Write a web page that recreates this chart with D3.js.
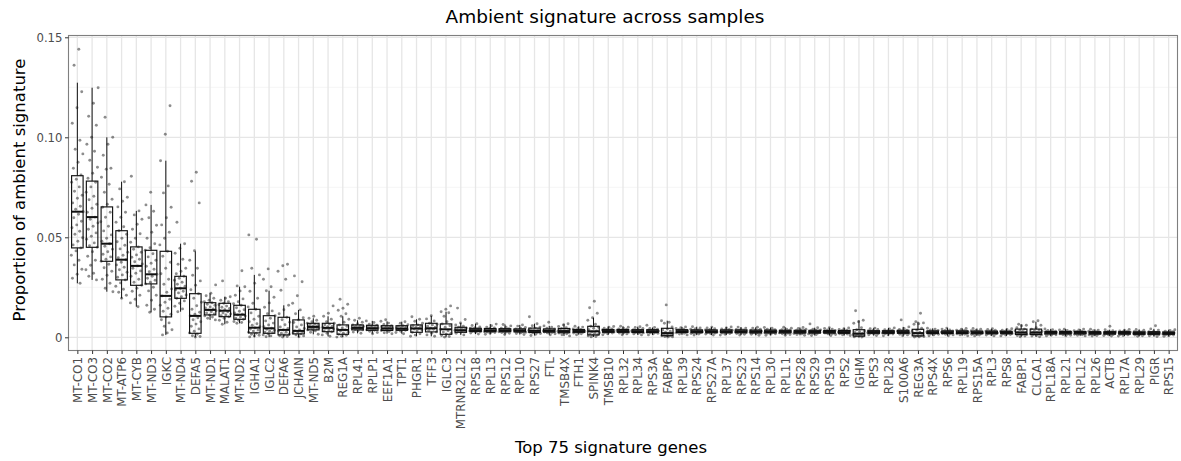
<!DOCTYPE html>
<html>
<head>
<meta charset="utf-8">
<script src="https://cdn.jsdelivr.net/npm/d3@7"></script>
<style>
  html, body { margin: 0; padding: 0; background: #fff; }
  svg { display: block; font-family: "DejaVu Sans", sans-serif; }
</style>
</head>
<body>
<svg id="chart" width="1181" height="461"></svg>
<script>
// Top 75 signature genes, ordered by median ambient proportion
const genes = ["MT-CO1","MT-CO3","MT-CO2","MT-ATP6","MT-CYB","MT-ND3","IGKC","MT-ND4","DEFA5","MT-ND1",
  "MALAT1","MT-ND2","IGHA1","IGLC2","DEFA6","JCHAIN","MT-ND5","B2M","REG1A","RPL41",
  "RPLP1","EEF1A1","TPT1","PHGR1","TFF3","IGLC3","MTRNR2L12","RPS18","RPL13","RPS12",
  "RPL10","RPS27","FTL","TMSB4X","FTH1","SPINK4","TMSB10","RPL32","RPL34","RPS3A",
  "FABP6","RPL39","RPS24","RPS27A","RPL37","RPS23","RPS14","RPL30","RPL11","RPS28",
  "RPS29","RPS19","RPS2","IGHM","RPS3","RPL28","S100A6","REG3A","RPS4X","RPS6",
  "RPL19","RPS15A","RPL3","RPS8","FABP1","CLCA1","RPL18A","RPL21","RPL12","RPL26",
  "ACTB","RPL7A","RPL29","PIGR","RPS15"];

// Box summaries per gene: lower whisker, Q1, median, Q3, upper whisker
const whiskerLow = [0.027,0.0287,0.0228,0.0195,0.0153,0.0125,0.0012,0.0128,0,0.0087,
  0.0065,0.007,0,0,0,0,0.0015,0.0005,0,0.002,
  0.0018,0.0018,0.0018,0.0005,0.0005,0,0.0012,0.0016,0.0015,0.0014,
  0.0014,0.0009,0.0013,0.0007,0.0013,0.0002,0.0013,0.0013,0.0012,0.0012,
  0.0001,0.0012,0.0011,0.0011,0.0011,0.0011,0.001,0.001,0.001,0.001,
  0.0009,0.0009,0.0009,0.0001,0.0009,0.0008,0.0008,0.0001,0.0008,0.0008,
  0.0008,0.0007,0.0007,0.0007,0.0003,0.0003,0.0007,0.0007,0.0007,0.0006,
  0.0006,0.0006,0.0005,0.0004,0.0005];
const q1 = [0.0447,0.045,0.038,0.0287,0.026,0.0267,0.0102,0.0195,0.002,0.0112,
  0.0103,0.009,0.0022,0.002,0.0012,0.0017,0.0037,0.0028,0.0015,0.0037,
  0.0035,0.0034,0.0035,0.0025,0.0027,0.0015,0.0025,0.0029,0.0028,0.0028,
  0.0027,0.0024,0.0026,0.0023,0.0025,0.0012,0.0025,0.0025,0.0024,0.0024,
  0.0008,0.0024,0.0023,0.0023,0.0023,0.0023,0.0022,0.0022,0.0022,0.0021,
  0.0021,0.0021,0.002,0.0006,0.002,0.002,0.002,0.0007,0.0019,0.0019,
  0.0019,0.0018,0.0018,0.0018,0.0014,0.0014,0.0017,0.0017,0.0017,0.0016,
  0.0016,0.0016,0.0015,0.0015,0.0015];
const median = [0.0628,0.0601,0.0468,0.0388,0.0357,0.0315,0.0207,0.0245,0.0107,0.0137,
  0.0133,0.0113,0.0048,0.0045,0.0037,0.0032,0.0052,0.0047,0.0037,0.0047,
  0.0045,0.0044,0.0043,0.0044,0.0045,0.004,0.0035,0.0035,0.0034,0.0034,
  0.0033,0.0032,0.0032,0.0031,0.0031,0.003,0.0031,0.0031,0.003,0.003,
  0.0021,0.003,0.0029,0.0029,0.0029,0.0029,0.0028,0.0028,0.0028,0.0027,
  0.0027,0.0027,0.0026,0.0018,0.0026,0.0026,0.0026,0.0021,0.0025,0.0025,
  0.0025,0.0024,0.0024,0.0024,0.0024,0.0024,0.0023,0.0023,0.0023,0.0022,
  0.0022,0.0022,0.0021,0.0021,0.0021];
const q3 = [0.0808,0.0781,0.0652,0.0533,0.0452,0.0435,0.043,0.0305,0.0218,0.0173,
  0.017,0.016,0.014,0.0108,0.01,0.0087,0.007,0.007,0.0062,0.0062,
  0.006,0.0058,0.0058,0.0062,0.007,0.0067,0.005,0.0045,0.0044,0.0043,
  0.0042,0.0046,0.0042,0.0044,0.0039,0.0055,0.0039,0.0039,0.0038,0.0038,
  0.0045,0.0038,0.0037,0.0037,0.0037,0.0037,0.0036,0.0036,0.0035,0.0035,
  0.0035,0.0034,0.0034,0.0038,0.0033,0.0033,0.0035,0.004,0.0032,0.0032,
  0.0032,0.0031,0.0031,0.003,0.0041,0.0041,0.0029,0.0029,0.0029,0.0028,
  0.0028,0.0028,0.0027,0.0028,0.0026];
const whiskerHigh = [0.1273,0.1248,0.1,0.0778,0.0632,0.0662,0.0883,0.0468,0.043,0.022,
  0.0203,0.0253,0.0312,0.0233,0.016,0.0137,0.0095,0.0105,0.0105,0.0085,
  0.0082,0.008,0.0078,0.009,0.0107,0.0128,0.0072,0.0068,0.0066,0.0064,
  0.0062,0.0068,0.0057,0.0068,0.0055,0.0098,0.0054,0.0055,0.0053,0.0049,
  0.0083,0.0052,0.0053,0.0051,0.0052,0.0051,0.005,0.0049,0.005,0.0049,
  0.0048,0.0048,0.0047,0.0085,0.0046,0.0047,0.0052,0.0078,0.0045,0.0046,
  0.0044,0.0044,0.0043,0.0043,0.0065,0.0078,0.0042,0.0041,0.0041,0.004,
  0.0038,0.0039,0.0039,0.0042,0.0038];

// Per-sample ambient proportions for each gene
const samples = [
  [0.144,0.136,0.1228,0.1148,0.107,0.0985,0.094,0.0917,0.0875,0.0845,0.0812,0.079,0.0775,0.0752,0.073,0.071,0.0695,0.0672,0.0655,0.064,0.0628,0.0615,0.0598,0.058,0.0562,0.0548,0.053,0.0515,0.0498,0.048,0.0462,0.0447,0.0432,0.041,0.0385,0.0362,0.034,0.0315,0.0295,0.027],
  [0.1248,0.117,0.1105,0.106,0.1,0.0965,0.093,0.0885,0.085,0.082,0.0795,0.0775,0.0752,0.0725,0.0705,0.0688,0.0665,0.0645,0.0625,0.0601,0.059,0.0572,0.0555,0.054,0.0522,0.0505,0.049,0.0472,0.0458,0.045,0.0428,0.0405,0.0385,0.036,0.0338,0.032,0.0305,0.0287],
  [0.11,0.1,0.0965,0.091,0.0845,0.084,0.08,0.0765,0.0725,0.069,0.0665,0.065,0.0625,0.06,0.0578,0.0555,0.0532,0.0512,0.0495,0.048,0.0468,0.0455,0.044,0.0428,0.0415,0.0402,0.039,0.038,0.0365,0.0348,0.033,0.031,0.029,0.027,0.0245,0.0228],
  [0.0778,0.0742,0.07,0.068,0.0652,0.0625,0.06,0.0575,0.0553,0.0533,0.0515,0.0495,0.0478,0.046,0.0442,0.0425,0.041,0.0398,0.0388,0.0375,0.0362,0.035,0.0338,0.0325,0.0312,0.03,0.0287,0.0272,0.0255,0.024,0.0225,0.021,0.0195],
  [0.0805,0.0632,0.0612,0.059,0.0565,0.054,0.0518,0.0495,0.0475,0.0452,0.044,0.0425,0.0412,0.04,0.039,0.0378,0.0367,0.0357,0.0345,0.0332,0.032,0.0305,0.029,0.0275,0.026,0.0245,0.023,0.021,0.019,0.0172,0.0153],
  [0.0725,0.0662,0.063,0.0598,0.056,0.0525,0.0495,0.0468,0.0448,0.0435,0.0418,0.0402,0.0385,0.037,0.0355,0.034,0.0328,0.0315,0.0305,0.0295,0.0285,0.0275,0.0267,0.025,0.0232,0.021,0.0185,0.016,0.014,0.0125],
  [0.1158,0.1015,0.0883,0.0757,0.0722,0.065,0.0598,0.0562,0.0525,0.0495,0.0462,0.043,0.0405,0.0375,0.0345,0.0318,0.029,0.0265,0.0242,0.0225,0.0207,0.019,0.0175,0.016,0.0145,0.013,0.0115,0.0102,0.0088,0.0072,0.0055,0.0038,0.0022,0.0012],
  [0.0575,0.0468,0.0445,0.042,0.039,0.0365,0.0345,0.033,0.0318,0.0305,0.0295,0.0285,0.0275,0.0265,0.0255,0.0245,0.0238,0.023,0.0222,0.0212,0.0203,0.0195,0.0182,0.017,0.0155,0.0142,0.0128],
  [0.0825,0.078,0.0672,0.0433,0.0385,0.0345,0.031,0.0282,0.026,0.0238,0.0218,0.0195,0.0175,0.0158,0.014,0.0125,0.0115,0.0107,0.0098,0.0088,0.0078,0.0066,0.0055,0.0042,0.003,0.0022,0.0015,0.0008,0.0004,0.0001],
  [0.0262,0.022,0.0208,0.0195,0.0185,0.0178,0.0173,0.0165,0.016,0.0152,0.0147,0.0142,0.0137,0.0133,0.0128,0.0122,0.0117,0.0112,0.0107,0.0101,0.0095,0.0087],
  [0.0282,0.0203,0.0195,0.0185,0.0178,0.017,0.0163,0.0156,0.015,0.0144,0.0138,0.0133,0.0128,0.0122,0.0117,0.0112,0.0108,0.0103,0.0095,0.0085,0.0075,0.0065],
  [0.0333,0.0257,0.0253,0.0232,0.021,0.0192,0.0178,0.0168,0.016,0.0148,0.0138,0.013,0.0122,0.0116,0.0112,0.0106,0.0101,0.0096,0.009,0.0085,0.0079,0.0074,0.007],
  [0.0512,0.049,0.0345,0.0312,0.027,0.023,0.0195,0.017,0.0152,0.014,0.0122,0.0105,0.009,0.0078,0.0068,0.006,0.0053,0.0047,0.0041,0.0036,0.0031,0.0025,0.002,0.0015,0.001,0.0006,0.0002],
  [0.0342,0.029,0.0253,0.0233,0.02,0.0172,0.015,0.0132,0.0118,0.0108,0.0095,0.0082,0.0071,0.0062,0.0053,0.0045,0.004,0.0035,0.003,0.0026,0.0023,0.0018,0.0012,0.0007,0.0003],
  [0.0365,0.0358,0.033,0.029,0.0235,0.016,0.0138,0.0118,0.01,0.0088,0.0075,0.0063,0.0052,0.0044,0.0037,0.0031,0.0025,0.002,0.0015,0.0012,0.0008,0.0004,0.0001],
  [0.0307,0.0278,0.0208,0.017,0.0137,0.0118,0.0098,0.0087,0.0074,0.0062,0.0052,0.0044,0.0037,0.0032,0.0028,0.0024,0.0021,0.0017,0.0012,0.0007,0.0003],
  [0.0105,0.0095,0.0085,0.0078,0.007,0.0066,0.0064,0.0059,0.0057,0.0055,0.0052,0.005,0.0048,0.0046,0.0044,0.0042,0.004,0.0037,0.0032,0.0025,0.0015],
  [0.0157,0.012,0.0105,0.009,0.0078,0.007,0.0066,0.0063,0.0056,0.0053,0.005,0.0047,0.0045,0.0042,0.0037,0.0033,0.0028,0.002,0.0012,0.0005],
  [0.019,0.0165,0.0145,0.0135,0.0118,0.0105,0.009,0.0075,0.0062,0.0055,0.0047,0.0041,0.0037,0.0031,0.0025,0.002,0.0015,0.001,0.0005,0.0001],
  [0.0095,0.0085,0.0075,0.0068,0.0062,0.0059,0.0057,0.0054,0.0052,0.0049,0.0047,0.0046,0.0044,0.0041,0.0039,0.0037,0.0032,0.0026,0.002],
  [0.0082,0.0074,0.0066,0.006,0.0057,0.0055,0.0052,0.005,0.0047,0.0045,0.0044,0.0042,0.0039,0.0037,0.0035,0.003,0.0024,0.0018],
  [0.0088,0.008,0.0071,0.0064,0.0058,0.0055,0.0053,0.005,0.0048,0.0044,0.0043,0.0041,0.0038,0.0036,0.0034,0.0029,0.0023,0.0018],
  [0.0078,0.007,0.0063,0.0058,0.0055,0.0052,0.0049,0.0047,0.0043,0.0042,0.004,0.0038,0.0037,0.0035,0.003,0.0024,0.0018],
  [0.0103,0.009,0.008,0.007,0.0062,0.0058,0.0055,0.0049,0.0046,0.0044,0.0041,0.0038,0.0032,0.0025,0.0018,0.0011,0.0005],
  [0.0108,0.0092,0.0082,0.007,0.0065,0.0062,0.0055,0.005,0.0045,0.0042,0.004,0.0035,0.0027,0.002,0.0012,0.0005],
  [0.0157,0.014,0.0128,0.0123,0.0105,0.009,0.0078,0.0067,0.0058,0.005,0.004,0.0033,0.0026,0.002,0.0015,0.0009,0.0004,0.0001],
  [0.0146,0.0089,0.0072,0.0062,0.0055,0.005,0.0046,0.0044,0.0041,0.0039,0.0037,0.0035,0.0033,0.0031,0.0028,0.0025,0.002,0.0012],
  [0.0068,0.0059,0.0052,0.0048,0.0045,0.0042,0.004,0.0038,0.0036,0.0035,0.0034,0.0033,0.0032,0.003,0.0029,0.0027,0.0025,0.0021,0.0016],
  [0.0066,0.0058,0.0051,0.0047,0.0044,0.0041,0.0039,0.0037,0.0035,0.0034,0.0033,0.0032,0.0031,0.0029,0.0028,0.0026,0.0024,0.002,0.0015],
  [0.0064,0.0057,0.005,0.0046,0.0043,0.0041,0.0039,0.0037,0.0035,0.0034,0.0033,0.0032,0.0031,0.0029,0.0028,0.0026,0.0024,0.002,0.0014],
  [0.0062,0.0056,0.0049,0.0045,0.0042,0.004,0.0038,0.0036,0.0034,0.0033,0.0032,0.0031,0.003,0.0028,0.0027,0.0025,0.0023,0.0019,0.0014],
  [0.0103,0.0068,0.0058,0.0051,0.0046,0.0042,0.0039,0.0036,0.0034,0.0032,0.0031,0.003,0.0028,0.0026,0.0024,0.0022,0.0019,0.0015,0.0009],
  [0.0075,0.0057,0.005,0.0046,0.0042,0.0039,0.0037,0.0035,0.0033,0.0032,0.0031,0.003,0.0029,0.0027,0.0026,0.0024,0.0022,0.0018,0.0013],
  [0.0068,0.0062,0.0054,0.0048,0.0044,0.004,0.0037,0.0035,0.0033,0.0031,0.003,0.0029,0.0027,0.0025,0.0023,0.0021,0.0018,0.0013,0.0007],
  [0.0055,0.0051,0.0046,0.0042,0.0039,0.0037,0.0035,0.0033,0.0032,0.0031,0.003,0.0029,0.0028,0.0026,0.0025,0.0023,0.0021,0.0018,0.0013],
  [0.018,0.0148,0.012,0.0098,0.0085,0.0065,0.0055,0.005,0.0045,0.0038,0.0032,0.0027,0.0023,0.002,0.0017,0.0013,0.001,0.0007,0.0004,0.0002],
  [0.0054,0.005,0.0045,0.0042,0.0039,0.0037,0.0035,0.0033,0.0032,0.0031,0.003,0.0029,0.0028,0.0026,0.0025,0.0023,0.0021,0.0018,0.0013],
  [0.0055,0.005,0.0046,0.0042,0.0039,0.0037,0.0035,0.0033,0.0032,0.0031,0.003,0.0029,0.0028,0.0026,0.0025,0.0023,0.0021,0.0017,0.0013],
  [0.0053,0.0049,0.0044,0.0041,0.0038,0.0036,0.0034,0.0032,0.0031,0.003,0.0029,0.0028,0.0027,0.0025,0.0024,0.0022,0.002,0.0017,0.0012],
  [0.006,0.0049,0.0044,0.0041,0.0038,0.0036,0.0034,0.0032,0.0031,0.003,0.0029,0.0028,0.0027,0.0025,0.0024,0.0022,0.002,0.0017,0.0012],
  [0.0162,0.0083,0.0075,0.007,0.0052,0.0041,0.0035,0.003,0.0025,0.0021,0.0018,0.0015,0.0012,0.001,0.0008,0.0006,0.0004,0.0002,0.0001],
  [0.0052,0.0048,0.0044,0.004,0.0038,0.0036,0.0034,0.0032,0.0031,0.003,0.0029,0.0028,0.0027,0.0025,0.0024,0.0022,0.002,0.0016,0.0012],
  [0.0053,0.0047,0.0043,0.004,0.0037,0.0035,0.0033,0.0031,0.003,0.0029,0.0028,0.0027,0.0026,0.0024,0.0023,0.0021,0.0019,0.0016,0.0011],
  [0.0051,0.0047,0.0043,0.0039,0.0037,0.0035,0.0033,0.0031,0.003,0.0029,0.0028,0.0027,0.0026,0.0024,0.0023,0.0021,0.0019,0.0016,0.0011],
  [0.0052,0.0047,0.0042,0.0039,0.0037,0.0035,0.0033,0.0031,0.003,0.0029,0.0028,0.0027,0.0026,0.0024,0.0023,0.0021,0.0019,0.0015,0.0011],
  [0.0051,0.0046,0.0042,0.0039,0.0037,0.0035,0.0033,0.0031,0.003,0.0029,0.0028,0.0027,0.0026,0.0024,0.0023,0.0021,0.0019,0.0015,0.0011],
  [0.005,0.0046,0.0041,0.0038,0.0036,0.0034,0.0032,0.003,0.0029,0.0028,0.0027,0.0026,0.0025,0.0023,0.0022,0.002,0.0018,0.0015,0.001],
  [0.0049,0.0045,0.0041,0.0038,0.0036,0.0034,0.0032,0.003,0.0029,0.0028,0.0027,0.0026,0.0025,0.0023,0.0022,0.002,0.0018,0.0015,0.001],
  [0.005,0.0045,0.0041,0.0038,0.0035,0.0033,0.0032,0.003,0.0029,0.0028,0.0027,0.0026,0.0025,0.0023,0.0022,0.002,0.0018,0.0014,0.001],
  [0.0049,0.0044,0.004,0.0037,0.0035,0.0033,0.0031,0.0029,0.0028,0.0027,0.0026,0.0025,0.0024,0.0022,0.0021,0.0019,0.0017,0.0014,0.001],
  [0.0067,0.0048,0.0041,0.0037,0.0035,0.0033,0.0031,0.0029,0.0028,0.0027,0.0026,0.0025,0.0024,0.0022,0.0021,0.0019,0.0017,0.0014,0.0009],
  [0.0048,0.0044,0.004,0.0037,0.0034,0.0032,0.0031,0.0029,0.0028,0.0027,0.0026,0.0025,0.0024,0.0022,0.0021,0.0019,0.0017,0.0014,0.0009],
  [0.0047,0.0043,0.0039,0.0036,0.0034,0.0032,0.003,0.0028,0.0027,0.0026,0.0025,0.0024,0.0023,0.0021,0.002,0.0018,0.0016,0.0013,0.0009],
  [0.0133,0.0085,0.0078,0.007,0.0048,0.0038,0.0032,0.0028,0.0024,0.002,0.0017,0.0014,0.0011,0.0008,0.0006,0.0004,0.0002,0.0001],
  [0.0046,0.0043,0.0039,0.0036,0.0033,0.0031,0.003,0.0028,0.0027,0.0026,0.0025,0.0024,0.0023,0.0021,0.002,0.0018,0.0016,0.0013,0.0009],
  [0.0047,0.0042,0.0038,0.0035,0.0033,0.0031,0.003,0.0028,0.0027,0.0026,0.0025,0.0024,0.0023,0.0021,0.002,0.0018,0.0016,0.0013,0.0008],
  [0.0087,0.0052,0.0044,0.0039,0.0035,0.0032,0.003,0.0028,0.0027,0.0026,0.0025,0.0024,0.0023,0.0021,0.002,0.0018,0.0015,0.0012,0.0008],
  [0.012,0.0078,0.0072,0.0068,0.0065,0.0045,0.0035,0.003,0.0025,0.0021,0.0017,0.0014,0.0011,0.0008,0.0006,0.0004,0.0002,0.0001],
  [0.0045,0.0041,0.0037,0.0034,0.0032,0.003,0.0029,0.0027,0.0026,0.0025,0.0024,0.0023,0.0022,0.002,0.0019,0.0017,0.0015,0.0012,0.0008],
  [0.0046,0.0041,0.0037,0.0034,0.0032,0.003,0.0028,0.0027,0.0026,0.0025,0.0024,0.0023,0.0022,0.002,0.0019,0.0017,0.0015,0.0012,0.0008],
  [0.0044,0.004,0.0036,0.0034,0.0032,0.003,0.0028,0.0027,0.0026,0.0025,0.0024,0.0023,0.0022,0.002,0.0019,0.0017,0.0015,0.0012,0.0008],
  [0.0044,0.004,0.0036,0.0033,0.0031,0.0029,0.0027,0.0026,0.0025,0.0024,0.0023,0.0022,0.0021,0.0019,0.0018,0.0016,0.0014,0.0011,0.0007],
  [0.0043,0.0039,0.0035,0.0033,0.0031,0.0029,0.0027,0.0026,0.0025,0.0024,0.0023,0.0022,0.0021,0.0019,0.0018,0.0016,0.0014,0.0011,0.0007],
  [0.0043,0.0039,0.0035,0.0032,0.003,0.0029,0.0027,0.0026,0.0025,0.0024,0.0023,0.0022,0.0021,0.0019,0.0018,0.0016,0.0014,0.0011,0.0007],
  [0.0065,0.006,0.0058,0.0048,0.0041,0.0036,0.0032,0.0029,0.0026,0.0024,0.0022,0.002,0.0018,0.0016,0.0014,0.0012,0.0009,0.0006,0.0003],
  [0.0083,0.0078,0.006,0.0048,0.0041,0.0036,0.0032,0.0029,0.0026,0.0024,0.0022,0.002,0.0018,0.0016,0.0014,0.0012,0.0009,0.0006,0.0003],
  [0.0042,0.0038,0.0034,0.0031,0.0029,0.0028,0.0026,0.0025,0.0024,0.0023,0.0022,0.0021,0.002,0.0018,0.0017,0.0015,0.0013,0.001,0.0007],
  [0.0041,0.0037,0.0034,0.0031,0.0029,0.0027,0.0026,0.0025,0.0024,0.0023,0.0022,0.0021,0.002,0.0018,0.0017,0.0015,0.0013,0.001,0.0007],
  [0.0041,0.0037,0.0033,0.0031,0.0029,0.0027,0.0026,0.0025,0.0024,0.0023,0.0022,0.0021,0.002,0.0018,0.0017,0.0015,0.0013,0.001,0.0007],
  [0.004,0.0036,0.0033,0.003,0.0028,0.0026,0.0025,0.0024,0.0023,0.0022,0.0021,0.002,0.0019,0.0017,0.0016,0.0014,0.0012,0.0009,0.0006],
  [0.0055,0.0038,0.0033,0.003,0.0028,0.0026,0.0025,0.0024,0.0023,0.0022,0.0021,0.002,0.0019,0.0017,0.0016,0.0014,0.0012,0.0009,0.0006],
  [0.0039,0.0035,0.0032,0.003,0.0028,0.0026,0.0025,0.0024,0.0023,0.0022,0.0021,0.002,0.0019,0.0017,0.0016,0.0014,0.0012,0.0009,0.0006],
  [0.0039,0.0035,0.0031,0.0029,0.0027,0.0025,0.0024,0.0023,0.0022,0.0021,0.002,0.0019,0.0018,0.0016,0.0015,0.0013,0.0011,0.0008,0.0005],
  [0.0058,0.0042,0.0036,0.0031,0.0028,0.0026,0.0024,0.0023,0.0022,0.0021,0.002,0.0019,0.0018,0.0016,0.0015,0.0013,0.0011,0.0008,0.0004],
  [0.0038,0.0034,0.0031,0.0028,0.0026,0.0025,0.0024,0.0023,0.0022,0.0021,0.002,0.0019,0.0018,0.0016,0.0015,0.0013,0.0011,0.0008,0.0005]
];

const yTicks = [0, 0.05, 0.10, 0.15];
const yTickLabels = ["0", "0.05", "0.10", "0.15"];
const yMinorTicks = [0.025, 0.075, 0.125];

const titleText = "Ambient signature across samples";
const xTitleText = "Top 75 signature genes";
const yTitleText = "Proportion of ambient signature";

// ---- layout ----
const panel = { left: 68.5, right: 1177.5, top: 35.5, bottom: 350.5 };
const svg = d3.select("#chart");

const x = d3.scalePoint().domain(genes).range([panel.left, panel.right]).padding(0.6);
const y = d3.scaleLinear().domain([-0.0066, 0.1509]).range([panel.bottom, panel.top]);
const step = x.step();
const boxHalf = step * 0.39;
const jitterHalf = step * 0.42;

// grid
const grid = svg.append("g");
grid.selectAll("line.minor").data(yMinorTicks).join("line")
  .attr("x1", panel.left).attr("x2", panel.right)
  .attr("y1", d => y(d)).attr("y2", d => y(d))
  .attr("stroke", "#f2f2f2").attr("stroke-width", 0.8);
grid.selectAll("line.majorY").data(yTicks).join("line")
  .attr("x1", panel.left).attr("x2", panel.right)
  .attr("y1", d => y(d)).attr("y2", d => y(d))
  .attr("stroke", "#e6e6e6").attr("stroke-width", 1.3);
grid.selectAll("line.majorX").data(genes).join("line")
  .attr("x1", d => x(d)).attr("x2", d => x(d))
  .attr("y1", panel.top).attr("y2", panel.bottom)
  .attr("stroke", "#e6e6e6").attr("stroke-width", 1.3);

// box plots
const stats = genes.map((g, i) => ({
  gene: g, lo: whiskerLow[i], q1: q1[i], med: median[i], q3: q3[i], hi: whiskerHigh[i]
}));
const boxes = svg.append("g").selectAll("g").data(stats).join("g");
boxes.append("line")
  .attr("x1", d => x(d.gene)).attr("x2", d => x(d.gene))
  .attr("y1", d => y(d.hi)).attr("y2", d => y(d.q3))
  .attr("stroke", "#111").attr("stroke-width", 1);
boxes.append("line")
  .attr("x1", d => x(d.gene)).attr("x2", d => x(d.gene))
  .attr("y1", d => y(d.q1)).attr("y2", d => y(d.lo))
  .attr("stroke", "#111").attr("stroke-width", 1);
boxes.append("rect")
  .attr("x", d => x(d.gene) - boxHalf).attr("width", boxHalf * 2)
  .attr("y", d => y(d.q3)).attr("height", d => Math.max(0.5, y(d.q1) - y(d.q3)))
  .attr("fill", "none").attr("stroke", "#111").attr("stroke-width", 1.15);
boxes.append("line")
  .attr("x1", d => x(d.gene) - boxHalf).attr("x2", d => x(d.gene) + boxHalf)
  .attr("y1", d => y(d.med)).attr("y2", d => y(d.med))
  .attr("stroke", "#111").attr("stroke-width", 2);

// jittered sample points (fixed low-discrepancy horizontal spread)
const pts = [];
samples.forEach((vals, i) => {
  vals.forEach((v, j) => {
    const u = ((j + 1) * 0.6180339887 + i * 0.37) % 1;
    pts.push({ gene: genes[i], v, dx: (u * 2 - 1) * jitterHalf });
  });
});
svg.append("g").selectAll("circle").data(pts).join("circle")
  .attr("cx", d => x(d.gene) + d.dx)
  .attr("cy", d => y(d.v))
  .attr("r", 1.45)
  .attr("fill", "#111").attr("fill-opacity", 0.48);

// panel border
svg.append("rect")
  .attr("x", panel.left).attr("y", panel.top)
  .attr("width", panel.right - panel.left).attr("height", panel.bottom - panel.top)
  .attr("fill", "none").attr("stroke", "#7f7f7f").attr("stroke-width", 1.1);

// axes
const yAxis = d3.axisLeft(y).tickValues(yTicks).tickFormat((d, i) => yTickLabels[i]).tickSize(3.5).tickPadding(2.5);
const gy = svg.append("g").attr("transform", `translate(${panel.left},0)`).call(yAxis);
gy.select(".domain").remove();
gy.selectAll(".tick line").attr("stroke", "#333").attr("stroke-width", 1);
gy.selectAll(".tick text").attr("fill", "#4d4d4d").style("font-size", "11.7px").style("font-family", "DejaVu Sans");

const xAxis = d3.axisBottom(x).tickSize(3.5).tickPadding(3);
const gx = svg.append("g").attr("transform", `translate(0,${panel.bottom})`).call(xAxis);
gx.select(".domain").remove();
gx.selectAll(".tick line").attr("stroke", "#333").attr("stroke-width", 1);
gx.selectAll(".tick text")
  .attr("fill", "#4d4d4d").style("font-size", "11.9px").style("font-family", "DejaVu Sans")
  .attr("transform", "rotate(-90)")
  .attr("text-anchor", "end")
  .attr("x", -6.5).attr("y", 0).attr("dy", "0.35em");

// titles
svg.append("text").attr("x", 605).attr("y", 22.5)
  .attr("text-anchor", "middle").attr("fill", "#000")
  .style("font-size", "18.5px").text(titleText);
svg.append("text").attr("x", 611).attr("y", 453)
  .attr("text-anchor", "middle").attr("fill", "#000")
  .style("font-size", "16.5px").text(xTitleText);
svg.append("text").attr("transform", "translate(25,190) rotate(-90)")
  .attr("text-anchor", "middle").attr("fill", "#000")
  .style("font-size", "16.5px").text(yTitleText);
</script>
</body>
</html>
